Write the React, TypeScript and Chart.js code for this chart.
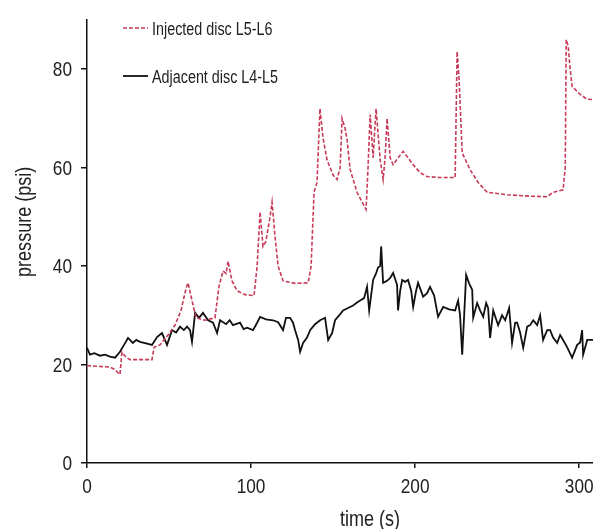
import React, { useEffect, useRef } from "react";
import { Chart, registerables } from "chart.js";

Chart.register(...registerables);

// ---- data ----
const injectedTime = [
  0, 7.9, 14, 17, 18.9, 20.1, 21.3, 23.8, 26.2, 32.3, 39.6, 40.9, 44.5, 49.4, 53.7, 57.3, 60.4, 61.6, 64, 66.5,
  72, 78, 80.5, 82.9, 84.8, 86, 88.4, 91.5, 96.3, 101.8, 103.7, 105.5, 107.3, 109, 111.6, 112.8, 114.6, 116.5, 119.5, 126.8,
  134.8, 136.6, 138.4, 140.2, 142, 143.9, 146.3, 150, 152.4, 154.3, 155.5, 157.3, 158.5, 160.4, 164.6, 167.7, 170.1, 171.3, 172.6, 174.4,
  176.2, 178.7, 180.5, 181.7, 182.9, 184.8, 186.6, 189.6, 192.7, 195.7, 198.8, 203, 207.3, 215.2, 224.4, 225.6, 226.8, 228.7, 233.5, 238.4,
  243.9, 256.1, 270.1, 280.5, 284.1, 290.2, 291.5, 292.1, 293.3, 294.5, 295.7, 300.6, 304.9, 309.8, 312,
];
const injectedPressure = [
  19.8, 19.6, 19.5, 19, 18.3, 18, 22.5, 21.5, 21, 21, 21, 23.5, 24, 26, 28, 31, 35.5, 36.6, 33, 29.5,
  29, 29.5, 36, 39, 38.5, 41, 37, 35, 34.2, 34, 40, 51, 44, 45, 50, 53, 46, 40, 37, 36.5,
  36.6, 40, 55, 57, 72, 66, 61.6, 58.5, 57.6, 60, 70, 68, 65.7, 59.6, 55, 53, 51.5, 60, 70.8, 62,
  72, 61.6, 57.6, 62, 70, 62, 60.6, 62, 63.3, 62, 60.6, 59, 58.2, 58, 58, 83.6, 78, 63, 59.6, 57,
  55, 54.5, 54.2, 54.1, 55, 55.5, 60, 86, 84.7, 80, 76.5, 74.9, 73.9, 73.8, 73.8,
];

const adjacentTime = [
  0, 1.8, 4.5, 7.9, 11, 14, 17.1, 20.1, 22.6, 25, 28, 30, 32.3, 36, 39.6, 42.7, 45.7, 48.8, 51.8, 54.3,
  56.7, 59, 61, 62.8, 64, 65.9, 68.3, 70.7, 73.8, 76.8, 79.3, 81.1, 84.8, 87, 89, 93.3, 95.5, 97.6, 101.2, 103.7,
  105.5, 109.1, 113.4, 116.5, 119.5, 121.3, 123.8, 125.6, 126.8, 128.7, 129.9, 131.7, 134.1, 136, 139, 142.1, 145.1, 147, 149.4, 151.2,
  153.7, 156.1, 159.1, 162.2, 164.6, 166.5, 168.9, 170.7, 172, 174.4, 176.2, 177.4, 178.7, 179.3, 180.5, 182.9, 184.8, 186.6, 189, 189.6,
  190.9, 192.1, 193.9, 195.7, 197.6, 198.8, 200.6, 201.8, 204.9, 207.3, 209.1, 211.6, 214, 215.2, 217.1, 220.7, 224.4, 226.2, 227.4, 228.7,
  229.9, 231.1, 232.9, 234.8, 235.4, 237.8, 239.6, 241.5, 243.3, 244.5, 245.7, 247.6, 250.6, 253, 254.9, 257.3, 259.1, 261, 262.2, 264,
  265.9, 268.3, 270.1, 272, 274.4, 276.2, 278, 280.5, 282.3, 284.1, 286.6, 288.4, 290.2, 292.7, 295.7, 298.8, 300.6, 301.8, 302.4, 304.9,
  308.5, 312,
];
const adjacentPressure = [
  23.4, 22, 22.3, 21.8, 22, 21.6, 21.4, 22.6, 24, 25.4, 24.4, 25, 24.6, 24.3, 24, 25.6, 26.4, 24, 27, 26.5,
  27.7, 27, 27.7, 27, 24.6, 30.5, 29.5, 30.5, 29, 28.5, 26.4, 29, 28.2, 29, 28, 28.5, 27.2, 27.5, 27, 28.5,
  29.7, 29.2, 29, 28.6, 27, 29.5, 29.5, 28.5, 27, 25, 22.6, 24.4, 25.5, 27, 28.2, 29, 29.5, 25, 26.4, 29,
  30, 31, 31.5, 32, 32.6, 33, 33.5, 35.8, 31, 37.2, 38.5, 39.7, 40, 44, 36.6, 37, 37.6, 38.6, 36.2, 31,
  35, 37.2, 36.8, 37.2, 35, 31.7, 35, 36.6, 33.8, 34.5, 35.8, 34, 29.7, 30.5, 31.7, 31.2, 31, 33, 30, 22,
  30, 38.2, 36.5, 35.2, 29.5, 32.5, 31, 29.7, 32.5, 31.5, 25.4, 31, 28, 30, 29, 31.5, 24.4, 28.5, 28.5, 26.5,
  23.4, 27.7, 28, 29, 28, 30, 25, 27, 27, 25.5, 24.4, 26, 25, 23.5, 21.4, 24, 24.5, 27, 22, 25,
  25, 25,
];

const seriesLabels = ["Injected disc L5-L6", "Adjacent disc L4-L5"];
const xTickValues = [0, 100, 200, 300];
const yTickValues = [0, 20, 40, 60, 80];
const xTitle = "time (s)";
const yTitle = "pressure (psi)";

const FONT = "'Liberation Sans', Arial, sans-serif";
const SX = 0.82; // horizontal condensing, mimics a narrow sans face
const TEXT = "#222";

function drawText(
  ctx: CanvasRenderingContext2D,
  text: string,
  x: number,
  y: number,
  size: number,
  align: CanvasTextAlign,
  baseline: CanvasTextBaseline,
  rotate = 0
) {
  ctx.save();
  ctx.translate(x, y);
  if (rotate) ctx.rotate(rotate);
  ctx.scale(SX, 1);
  ctx.font = `${size}px ${FONT}`;
  ctx.fillStyle = TEXT;
  ctx.textAlign = align;
  ctx.textBaseline = baseline;
  ctx.fillText(text, 0, 0);
  ctx.restore();
}

const legendPlugin = {
  id: "insideLegend",
  afterDatasetsDraw(chart: any) {
    const { ctx, chartArea } = chart;
    ctx.save();
    chart.data.datasets.forEach((ds: any, i: number) => {
      const y = chartArea.top + 8 + i * 48;
      const x0 = chartArea.left + 36;
      const x1 = chartArea.left + 61;
      ctx.beginPath();
      ctx.setLineDash(ds.borderDash || []);
      ctx.strokeStyle = ds.borderColor;
      ctx.lineWidth = ds.borderWidth;
      ctx.moveTo(x0, y);
      ctx.lineTo(x1, y);
      ctx.stroke();
      ctx.setLineDash([]);
      drawText(ctx, ds.label, x1 + 4, y + 6.5, 17.5, "left", "alphabetic");
    });
    ctx.restore();
  },
};

const textPlugin = {
  id: "axisText",
  afterDraw(chart: any) {
    const { ctx, chartArea } = chart;
    const xs = chart.scales.x;
    const ys = chart.scales.y;
    yTickValues.forEach((v) => {
      drawText(ctx, String(v), chartArea.left - 15, ys.getPixelForValue(v) + 7, 21, "right", "alphabetic");
    });
    xTickValues.forEach((v) => {
      drawText(ctx, String(v), xs.getPixelForValue(v), chartArea.bottom + 30, 21, "center", "alphabetic");
    });
    drawText(ctx, xTitle, (chartArea.left + chartArea.right) / 2, chartArea.bottom + 63, 22, "center", "alphabetic");
    drawText(ctx, yTitle, 25, ys.getPixelForValue(49), 22, "center", "middle", -Math.PI / 2);
  },
};

export default function App() {
  const ref = useRef<HTMLCanvasElement | null>(null);

  useEffect(() => {
    if (!ref.current) return;
    const toPts = (xs: number[], ys: number[]) => xs.map((x, i) => ({ x, y: ys[i] }));
    const chart = new Chart(ref.current, {
      type: "line",
      data: {
        datasets: [
          {
            label: seriesLabels[0],
            data: toPts(injectedTime, injectedPressure),
            borderColor: "#C73A58",
            borderWidth: 1.6,
            borderDash: [4, 2],
            pointRadius: 0,
            tension: 0,
          },
          {
            label: seriesLabels[1],
            data: toPts(adjacentTime, adjacentPressure),
            borderColor: "#111111",
            borderWidth: 1.8,
            pointRadius: 0,
            tension: 0,
          },
        ],
      },
      options: {
        responsive: false,
        animation: false,
        devicePixelRatio: 1,
        layout: { padding: { top: 20, right: 7, left: 0, bottom: 0 } },
        plugins: { legend: { display: false }, tooltip: { enabled: false } },
        scales: {
          x: {
            type: "linear",
            min: 0,
            max: 345,
            afterBuildTicks: (s: any) => {
              s.ticks = xTickValues.map((v) => ({ value: v }));
            },
            afterFit: (s: any) => {
              s.height = 66;
            },
            border: { display: true, color: "#111", width: 1.5 },
            grid: { display: true, drawOnChartArea: false, drawTicks: true, tickLength: 5, color: "#111", lineWidth: 1.5 },
            ticks: { display: false },
            title: { display: false },
          },
          y: {
            type: "linear",
            min: 0,
            max: 90,
            afterBuildTicks: (s: any) => {
              s.ticks = yTickValues.map((v) => ({ value: v }));
            },
            afterFit: (s: any) => {
              s.width = 87;
            },
            border: { display: true, color: "#111", width: 1.5 },
            grid: { display: true, drawOnChartArea: false, drawTicks: true, tickLength: 6, color: "#111", lineWidth: 1.5 },
            ticks: { display: false },
            title: { display: false },
          },
        },
      },
      plugins: [legendPlugin, textPlugin],
    } as any);
    return () => chart.destroy();
  }, []);

  return (
    <div
      style={{
        position: "fixed",
        left: 0,
        top: 0,
        width: 593,
        height: 529,
        overflow: "hidden",
        background: "#fff",
      }}
    >
      <canvas ref={ref} width={660} height={529} style={{ display: "block" }} />
    </div>
  );
}
